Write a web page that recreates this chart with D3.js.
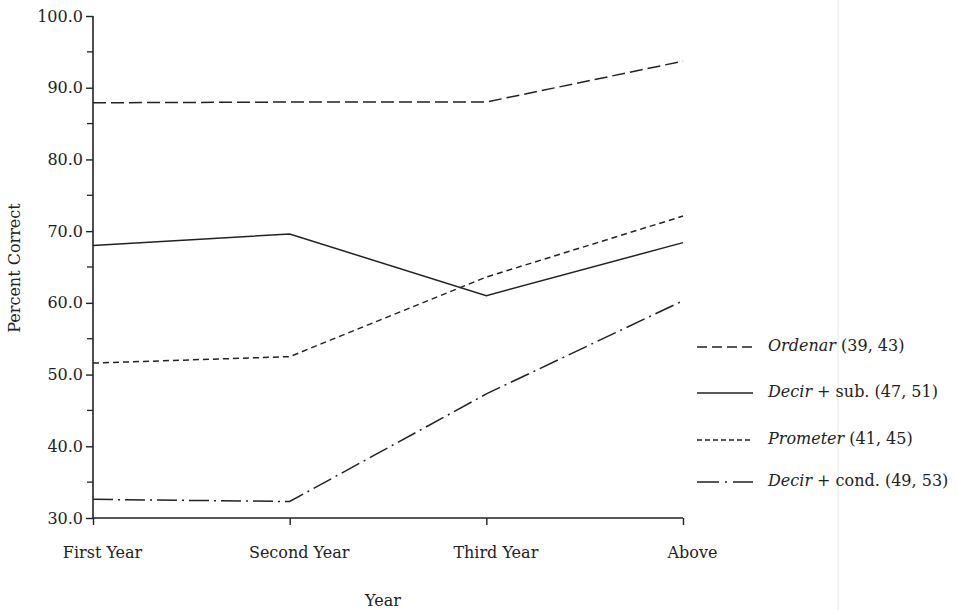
<!DOCTYPE html>
<html>
<head>
<meta charset="utf-8">
<script src="https://cdn.jsdelivr.net/npm/d3@7"></script>
<style>
  body { margin: 0; background: #fff; }
  svg { display: block; }
  text { font-family: "DejaVu Serif", "Liberation Serif", serif; fill: #222; }
</style>
</head>
<body>
<svg id="chart" width="957" height="610"></svg>
<script>
const categories = ["First Year", "Second Year", "Third Year", "Above"];
const ordenar = [87.9, 88.0, 88.0, 93.7];
const decirSub = [68.0, 69.6, 61.0, 68.4];
const prometer = [51.6, 52.5, 63.6, 72.1];
const decirCond = [32.6, 32.3, 47.3, 60.3];
const yTicks = [30, 40, 50, 60, 70, 80, 90, 100];
const yMinorTicks = [35, 45, 55, 65, 75, 85, 95];

const seriesList = [
  { name: "Ordenar", rest: " (39, 43)", values: ordenar, dash: "13,5", legDash: "10,5" },
  { name: "Decir", rest: " + sub. (47, 51)", values: decirSub, dash: null, legDash: null },
  { name: "Prometer", rest: " (41, 45)", values: prometer, dash: "6,4", legDash: "5,3" },
  { name: "Decir", rest: " + cond. (49, 53)", values: decirCond, dash: "20,5,2,5", legDash: "22,6,2,6" }
];

const svg = d3.select("#chart");
const mLeft = 93, mRight = 683, mTop = 16, mBottom = 518;
const FONT = '"DejaVu Serif", serif';

const x = d3.scalePoint().domain(categories).range([mLeft, mRight]);
const y = d3.scaleLinear().domain([30, 100]).range([mBottom, mTop]);

// faint scan artifact line
svg.append("line").attr("x1", 838).attr("x2", 838).attr("y1", 0).attr("y2", 610)
  .attr("stroke", "#e6e6e6").attr("stroke-width", 1);

// y axis
const yAxis = svg.append("g").attr("transform", `translate(${mLeft},0)`)
  .call(d3.axisLeft(y).tickValues(yTicks).tickFormat(d3.format(".1f")).tickSize(7).tickPadding(3));
yAxis.select(".domain").attr("stroke", "#222").attr("stroke-width", 1.6).attr("d", `M0,${mTop}V${mBottom}`);
yAxis.selectAll(".tick line").attr("stroke", "#222").attr("stroke-width", 1.4);
yAxis.selectAll(".tick text").style("font-size", "16px").attr("fill", "#222").style("font-family", FONT);
svg.append("g").selectAll("line").data(yMinorTicks).join("line")
  .attr("x1", mLeft - 6).attr("x2", mLeft).attr("y1", d => y(d)).attr("y2", d => y(d))
  .attr("stroke", "#222").attr("stroke-width", 1.3);

// x axis
const xAxis = svg.append("g").attr("transform", `translate(0,${mBottom})`)
  .call(d3.axisBottom(x).tickSize(7).tickPadding(22));
xAxis.select(".domain").attr("stroke", "#222").attr("stroke-width", 1.6).attr("d", `M${mLeft},0H${mRight}`);
xAxis.selectAll(".tick line").attr("stroke", "#222").attr("stroke-width", 1.4);
xAxis.selectAll(".tick text").style("font-size", "16px").attr("fill", "#222").style("font-family", FONT)
  .attr("dx", 9);

// axis titles
svg.append("text").attr("x", 383).attr("y", 606).attr("text-anchor", "middle")
  .style("font-size", "16px").text("Year");
svg.append("text").attr("transform", "translate(20,268) rotate(-90)").attr("text-anchor", "middle")
  .style("font-size", "16px").text("Percent Correct");

// lines
const line = d3.line().x((d, i) => x(categories[i])).y(d => y(d));
svg.append("g").selectAll("path").data(seriesList).join("path")
  .attr("d", d => line(d.values))
  .attr("fill", "none").attr("stroke", "#222").attr("stroke-width", 1.5)
  .attr("stroke-dasharray", d => d.dash);

// legend
const legY = [347, 393, 440, 482];
const leg = svg.append("g").selectAll("g").data(seriesList).join("g")
  .attr("transform", (d, i) => `translate(697,${legY[i]})`);
leg.append("line").attr("x1", 0).attr("x2", 56).attr("y1", 0).attr("y2", 0)
  .attr("stroke", "#222").attr("stroke-width", 1.5).attr("stroke-dasharray", d => d.legDash);
const lt = leg.append("text").attr("x", 71).attr("y", 4).style("font-size", "16px");
lt.append("tspan").style("font-style", "italic").text(d => d.name);
lt.append("tspan").text(d => d.rest);
</script>
</body>
</html>
